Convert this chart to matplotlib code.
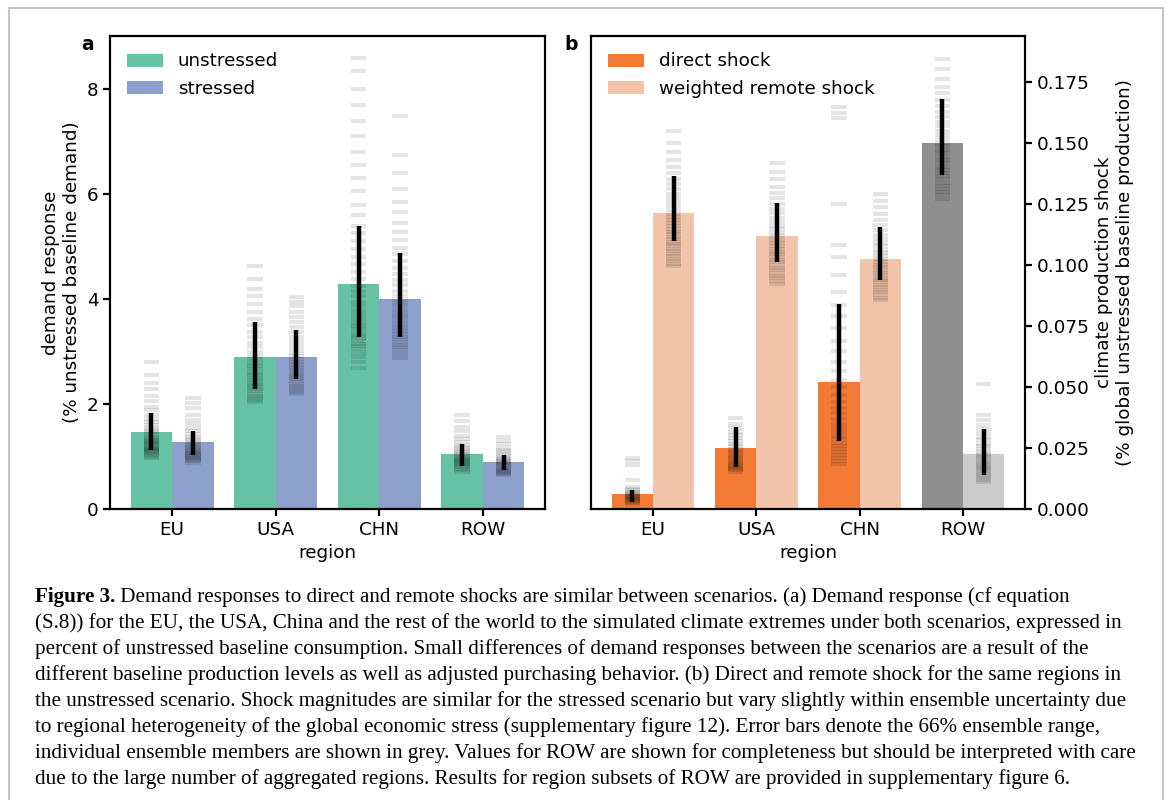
import numpy as np
import matplotlib
matplotlib.use('Agg')
import matplotlib.pyplot as plt
from matplotlib.lines import Line2D

# Data
regions = ['EU', 'USA', 'CHN', 'ROW']

# panel a: demand response (% unstressed baseline demand)
demand_unstressed = [1.46, 2.90, 4.29, 1.05]
demand_stressed = [1.27, 2.90, 4.00, 0.89]
demand_unstressed_lo = [1.13, 2.29, 3.28, 0.82]
demand_unstressed_hi = [1.82, 3.56, 5.39, 1.24]
demand_stressed_lo = [1.03, 2.48, 3.28, 0.74]
demand_stressed_hi = [1.48, 3.41, 4.88, 1.03]

# ensemble members, panel a
members_unstressed = [
    [0.97, 1.00, 1.02, 1.05, 1.07, 1.09, 1.10, 1.12, 1.14, 1.15, 1.17, 1.19, 1.21, 1.23, 1.25, 1.27, 1.29,
     1.32, 1.35, 1.38, 1.42, 1.46, 1.50, 1.55, 1.60, 1.66, 1.72, 1.80, 1.88, 1.95, 2.05, 2.15, 2.28, 2.40,
     2.55, 2.80],
    [2.04, 2.08, 2.12, 2.16, 2.20, 2.24, 2.28, 2.32, 2.36, 2.40, 2.45, 2.50, 2.55, 2.60, 2.66, 2.72, 2.78,
     2.85, 2.92, 3.00, 3.08, 3.17, 3.27, 3.38, 3.50, 3.62, 3.75, 3.90, 4.05, 4.20, 4.38, 4.62],
    [2.69, 2.80, 2.90, 2.98, 3.05, 3.10, 3.15, 3.20, 3.25, 3.30, 3.36, 3.42, 3.48, 3.55, 3.62, 3.70, 3.78,
     3.86, 3.95, 4.05, 4.15, 4.25, 4.38, 4.52, 4.66, 4.80, 4.95, 5.10, 5.25, 5.40, 5.60, 5.80, 6.05, 6.30,
     6.55, 6.80, 7.10, 7.40, 7.70, 8.00, 8.35, 8.60],
    [0.71, 0.74, 0.77, 0.80, 0.82, 0.84, 0.86, 0.88, 0.90, 0.92, 0.94, 0.96, 0.98, 1.00, 1.02, 1.05, 1.08,
     1.11, 1.14, 1.18, 1.22, 1.27, 1.33, 1.40, 1.48, 1.57, 1.67, 1.80],
]
members_stressed = [
    [0.88, 0.91, 0.93, 0.95, 0.97, 0.99, 1.01, 1.03, 1.05, 1.07, 1.09, 1.11, 1.13, 1.16, 1.19, 1.22, 1.25,
     1.29, 1.33, 1.38, 1.43, 1.48, 1.55, 1.62, 1.70, 1.80, 1.92, 2.02, 2.12],
    [2.19, 2.23, 2.27, 2.31, 2.35, 2.39, 2.43, 2.47, 2.51, 2.55, 2.59, 2.64, 2.69, 2.74, 2.80, 2.86, 2.92,
     2.98, 3.05, 3.12, 3.20, 3.28, 3.37, 3.46, 3.56, 3.66, 3.76, 3.86, 3.95, 4.03],
    [2.87, 2.95, 3.02, 3.08, 3.13, 3.18, 3.23, 3.28, 3.33, 3.39, 3.45, 3.51, 3.58, 3.65, 3.72, 3.80, 3.88,
     3.97, 4.06, 4.16, 4.26, 4.37, 4.48, 4.60, 4.72, 4.85, 4.98, 5.12, 5.28, 5.45, 5.65, 5.85, 6.10, 6.40,
     6.75, 7.48],
    [0.65, 0.67, 0.69, 0.71, 0.73, 0.75, 0.77, 0.79, 0.81, 0.83, 0.85, 0.87, 0.89, 0.91, 0.93, 0.95, 0.98,
     1.01, 1.04, 1.08, 1.12, 1.17, 1.23, 1.30, 1.38],
]

# panel b: climate production shock (% global unstressed baseline production)
shock_direct = [0.0061, 0.0250, 0.0519, 0.1498]
shock_remote = [0.1211, 0.1117, 0.1023, 0.0225]
shock_direct_lo = [0.0029, 0.0172, 0.0279, 0.1366]
shock_direct_hi = [0.0078, 0.0335, 0.0839, 0.1679]
shock_remote_lo = [0.1096, 0.1011, 0.0938, 0.0139]
shock_remote_hi = [0.1362, 0.1255, 0.1153, 0.0327]

members_direct = [
    [0.0022, 0.0026, 0.0030, 0.0033, 0.0036, 0.0039, 0.0042, 0.0045, 0.0048, 0.0051, 0.0054, 0.0058,
     0.0062, 0.0066, 0.0071, 0.0076, 0.0082, 0.0090, 0.0120, 0.0180, 0.0195, 0.0207],
    [0.0153, 0.0158, 0.0163, 0.0168, 0.0173, 0.0178, 0.0183, 0.0188, 0.0194, 0.0200, 0.0207, 0.0214,
     0.0222, 0.0230, 0.0238, 0.0247, 0.0256, 0.0266, 0.0277, 0.0289, 0.0302, 0.0316, 0.0332, 0.0350,
     0.0373],
    [0.0183, 0.0195, 0.0208, 0.0220, 0.0232, 0.0245, 0.0258, 0.0272, 0.0286, 0.0300, 0.0316, 0.0332,
     0.0350, 0.0370, 0.0392, 0.0415, 0.0440, 0.0468, 0.0498, 0.0530, 0.0565, 0.0602, 0.0645, 0.0690,
     0.0740, 0.0790, 0.0835, 0.0890, 0.0960, 0.1030, 0.1080, 0.1250, 0.1600, 0.1620, 0.1647],
    [0.1271, 0.1285, 0.1298, 0.1311, 0.1324, 0.1337, 0.1350, 0.1363, 0.1376, 0.1389, 0.1402, 0.1415,
     0.1428, 0.1442, 0.1456, 0.1470, 0.1485, 0.1500, 0.1516, 0.1532, 0.1549, 0.1567, 0.1586, 0.1606,
     0.1627, 0.1650, 0.1675, 0.1702, 0.1730, 0.1760, 0.1800, 0.1844],
]
members_remote = [
    [0.0994, 0.1005, 0.1015, 0.1025, 0.1035, 0.1045, 0.1055, 0.1065, 0.1075, 0.1085, 0.1095, 0.1105,
     0.1115, 0.1125, 0.1135, 0.1145, 0.1158, 0.1170, 0.1183, 0.1196, 0.1210, 0.1225, 0.1240, 0.1256,
     0.1272, 0.1290, 0.1310, 0.1330, 0.1352, 0.1375, 0.1400, 0.1430, 0.1460, 0.1500, 0.1550],
    [0.0920, 0.0932, 0.0944, 0.0955, 0.0966, 0.0977, 0.0988, 0.0999, 0.1010, 0.1021, 0.1032, 0.1043,
     0.1054, 0.1066, 0.1078, 0.1090, 0.1103, 0.1116, 0.1130, 0.1145, 0.1160, 0.1176, 0.1193, 0.1211,
     0.1230, 0.1250, 0.1272, 0.1295, 0.1320, 0.1350, 0.1380, 0.1417],
    [0.0855, 0.0866, 0.0877, 0.0888, 0.0898, 0.0908, 0.0918, 0.0928, 0.0938, 0.0948, 0.0958, 0.0968,
     0.0978, 0.0989, 0.1000, 0.1011, 0.1023, 0.1035, 0.1048, 0.1062, 0.1076, 0.1091, 0.1107, 0.1124,
     0.1142, 0.1162, 0.1184, 0.1208, 0.1235, 0.1260, 0.1289],
    [0.0110, 0.0118, 0.0126, 0.0134, 0.0142, 0.0150, 0.0158, 0.0166, 0.0174, 0.0182, 0.0190, 0.0198,
     0.0207, 0.0216, 0.0225, 0.0235, 0.0245, 0.0256, 0.0268, 0.0281, 0.0295, 0.0310, 0.0327, 0.0345,
     0.0365, 0.0385, 0.0512],
]

caption_lines = [
    "Demand responses to direct and remote shocks are similar between scenarios. (a) Demand response (cf equation",
    "(S.8)) for the EU, the USA, China and the rest of the world to the simulated climate extremes under both scenarios, expressed in",
    "percent of unstressed baseline consumption. Small differences of demand responses between the scenarios are a result of the",
    "different baseline production levels as well as adjusted purchasing behavior. (b) Direct and remote shock for the same regions in",
    "the unstressed scenario. Shock magnitudes are similar for the stressed scenario but vary slightly within ensemble uncertainty due",
    "to regional heterogeneity of the global economic stress (supplementary figure 12). Error bars denote the 66% ensemble range,",
    "individual ensemble members are shown in grey. Values for ROW are shown for completeness but should be interpreted with care",
    "due to the large number of aggregated regions. Results for region subsets of ROW are provided in supplementary figure 6.",
]

# Style
plt.rcParams['font.family'] = 'DejaVu Sans'
plt.rcParams['font.size'] = 13.2
plt.rcParams['axes.linewidth'] = 1.6
plt.rcParams['xtick.major.width'] = 1.6
plt.rcParams['ytick.major.width'] = 1.6
plt.rcParams['xtick.major.size'] = 5
plt.rcParams['ytick.major.size'] = 5

W, H = 1171, 800
fig = plt.figure(figsize=(W / 100, H / 100), dpi=100)


def px_axes(l, t, r, b):
    return fig.add_axes([l / W, 1 - b / H, (r - l) / W, (b - t) / H])


ax1 = px_axes(110, 36, 545, 509)
ax2 = px_axes(591, 36, 1025, 509)

x = np.arange(len(regions))
bw = 0.4
half = 0.075


def draw_members(ax, xc, vals):
    ax.hlines(vals, xc - half, xc + half, color='black', alpha=0.1, lw=3, zorder=3)


def draw_err(ax, xc, lo, hi):
    ax.vlines(xc, lo, hi, color='black', lw=3.2, zorder=4)


# Panel a
ax1.bar(x - bw / 2, demand_unstressed, bw, color='#66c2a5', label='unstressed', zorder=2)
ax1.bar(x + bw / 2, demand_stressed, bw, color='#8da0cb', label='stressed', zorder=2)
for i in range(len(regions)):
    draw_members(ax1, x[i] - bw / 2, members_unstressed[i])
    draw_members(ax1, x[i] + bw / 2, members_stressed[i])
    draw_err(ax1, x[i] - bw / 2, demand_unstressed_lo[i], demand_unstressed_hi[i])
    draw_err(ax1, x[i] + bw / 2, demand_stressed_lo[i], demand_stressed_hi[i])
ax1.set_xlim(-0.6, 3.6)
ax1.set_ylim(0, 9.01)
ax1.set_yticks([0, 2, 4, 6, 8])
ax1.set_xticks(x)
ax1.set_xticklabels(regions)
ax1.set_xlabel('region')
ax1.set_ylabel('demand response\n(% unstressed baseline demand)')
ax1.legend(loc='upper left', frameon=False)

# Panel b
direct_colors = ['#f37a35', '#f37a35', '#f37a35', '#8f8f8f']
remote_colors = ['#f2c4a9', '#f2c4a9', '#f2c4a9', '#cccccc']
bars_d = ax2.bar(x - bw / 2, shock_direct, bw, color=direct_colors, zorder=2)
bars_r = ax2.bar(x + bw / 2, shock_remote, bw, color=remote_colors, zorder=2)
for i in range(len(regions)):
    draw_members(ax2, x[i] - bw / 2, members_direct[i])
    draw_members(ax2, x[i] + bw / 2, members_remote[i])
    draw_err(ax2, x[i] - bw / 2, shock_direct_lo[i], shock_direct_hi[i])
    draw_err(ax2, x[i] + bw / 2, shock_remote_lo[i], shock_remote_hi[i])
ax2.set_xlim(-0.6, 3.6)
ax2.set_ylim(0, 0.1937)
ax2.set_yticks(np.arange(0, 0.176, 0.025))
ax2.yaxis.set_major_formatter(plt.FormatStrFormatter('%.3f'))
ax2.yaxis.tick_right()
ax2.yaxis.set_label_position('right')
ax2.set_xticks(x)
ax2.set_xticklabels(regions)
ax2.set_xlabel('region')
ax2.set_ylabel('climate production shock\n(% global unstressed baseline production)')
ax2.legend([bars_d[0], bars_r[0]], ['direct shock', 'weighted remote shock'],
           loc='upper left', frameon=False)

# panel letters
fig.text(88 / W, 1 - 44 / H, 'a', fontweight='bold', fontsize=13.5, ha='center', va='center')
fig.text(571 / W, 1 - 44 / H, 'b', fontweight='bold', fontsize=13.5, ha='center', va='center')

# Outer frame
fc = '#c4c4c4'
for xs, ys in [([9, 9], [800, 8]), ([9, 1163], [8, 8]), ([1163, 1163], [8, 800])]:
    fig.add_artist(Line2D([v / W for v in xs], [1 - v / H for v in ys], color=fc, lw=1.5))

# Caption
serif = 'Liberation Serif'
fs = 16
renderer = fig.canvas.get_renderer()
probe = fig.text(0, 0, caption_lines[6], family=serif, fontsize=fs)
wpx = probe.get_window_extent(renderer).width
probe.remove()
fs = fs * (1102 / wpx)

x0 = 35
y0 = 597
dy = 26
t = fig.text(x0 / W, 1 - y0 / H, 'Figure 3.', family=serif, fontsize=fs, fontweight='bold', va='center')
bw_px = t.get_window_extent(renderer).width
fig.text((x0 + bw_px) / W, 1 - y0 / H, ' ' + caption_lines[0], family=serif, fontsize=fs, va='center')
for k, line in enumerate(caption_lines[1:], start=1):
    fig.text(x0 / W, 1 - (y0 + k * dy) / H, line, family=serif, fontsize=fs, va='center')

fig.savefig('out.png', dpi=100)
